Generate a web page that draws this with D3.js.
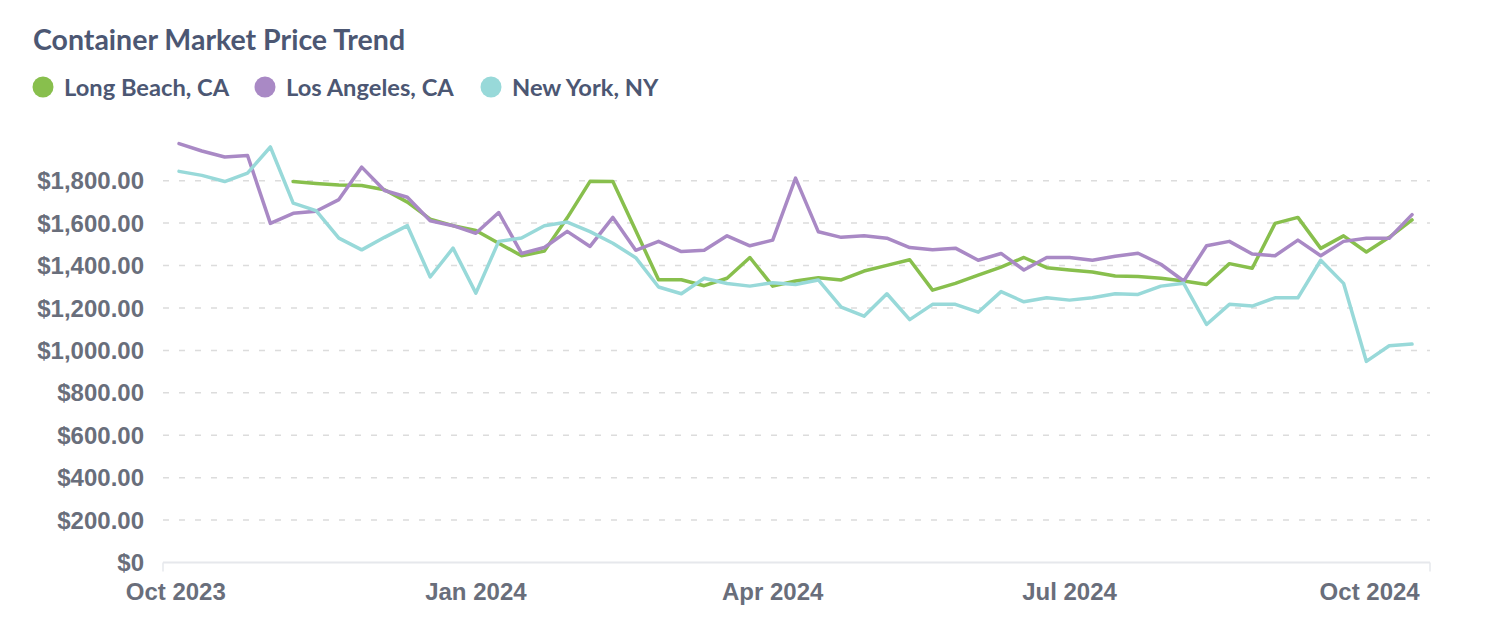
<!DOCTYPE html>
<html>
<head>
<meta charset="utf-8">
<script src="https://cdn.jsdelivr.net/npm/d3@7"></script>
<style>
  body { margin: 0; background: #fff; }
  svg { display: block; }
</style>
</head>
<body>
<svg id="chart" width="1488" height="632"></svg>
<script>
"use strict";
// weekly dates (Mondays)
var weeks = ["2023-10-02","2023-10-09","2023-10-16","2023-10-23","2023-10-30",
  "2023-11-06","2023-11-13","2023-11-20","2023-11-27",
  "2023-12-04","2023-12-11","2023-12-18","2023-12-25",
  "2024-01-01","2024-01-08","2024-01-15","2024-01-22","2024-01-29",
  "2024-02-05","2024-02-12","2024-02-19","2024-02-26",
  "2024-03-04","2024-03-11","2024-03-18","2024-03-25",
  "2024-04-01","2024-04-08","2024-04-15","2024-04-22","2024-04-29",
  "2024-05-06","2024-05-13","2024-05-20","2024-05-27",
  "2024-06-03","2024-06-10","2024-06-17","2024-06-24",
  "2024-07-01","2024-07-08","2024-07-15","2024-07-22","2024-07-29",
  "2024-08-05","2024-08-12","2024-08-19","2024-08-26",
  "2024-09-02","2024-09-09","2024-09-16","2024-09-23","2024-09-30",
  "2024-10-07","2024-10-14"];

var longBeach = [null,null,null,null,null,
  1796,1787,1780,1777,1757,1699,1619,1588,1565,1505,1446,1468,1625,1797,1796,
  1565,1333,1333,1305,1340,1438,1303,1327,1343,1332,1374,1401,1427,1284,1316,
  1355,1393,1438,1390,1379,1370,1351,1348,1340,1327,1311,1409,1387,1599,1627,
  1481,1540,1464,1533,1615];

var losAngeles = [1975,1940,1912,1919,1599,1646,1656,1711,1864,1754,1722,1611,1588,1552,
  1650,1457,1485,1561,1490,1627,1472,1514,1466,1472,1540,1493,1520,1812,1559,1533,
  1540,1529,1485,1474,1482,1425,1457,1379,1438,1438,1425,1444,1458,1406,1327,1493,
  1514,1454,1446,1520,1446,1514,1529,1529,1640];

var newYork = [1844,1825,1796,1836,1959,1694,1659,1529,1474,1533,1588,1346,1482,1270,
  1514,1530,1588,1605,1560,1505,1437,1299,1267,1340,1315,1303,1319,1311,1332,1204,
  1161,1267,1145,1217,1217,1180,1277,1229,1248,1237,1248,1267,1264,1303,1316,1122,
  1217,1209,1248,1248,1425,1316,948,1022,1030];

var seriesNames = ["Long Beach, CA", "Los Angeles, CA", "New York, NY"];
var seriesColors = ["#88BF4D", "#A989C5", "#98D9D9"];
var yTicks = [0,200,400,600,800,1000,1200,1400,1600,1800];
var xTickDates = ["2023-10-01","2024-01-01","2024-04-01","2024-07-01","2024-10-01"];

var parse = d3.timeParse("%Y-%m-%d");
var dates = weeks.map(parse);
var allSeries = [longBeach, losAngeles, newYork];

var svg = d3.select("#chart");
var plotLeft = 163, plotRight = 1430, plotBottom = 562.5, plotTop = 180.7;

var x = d3.scaleTime()
  .domain([new Date(2023, 8, 27, 2), new Date(2024, 9, 19, 12)])
  .range([plotLeft, plotRight]);
var y = d3.scaleLinear()
  .domain([0, 1800])
  .range([plotBottom, plotTop]);

// title
svg.append("text")
  .attr("x", 33).attr("y", 50)
  .attr("font-family", "Lato, sans-serif")
  .attr("font-weight", 700)
  .attr("font-size", 28.5)
  .attr("fill", "#4C5773")
  .text("Container Market Price Trend");

// legend
var legX = [43, 265, 491];
var leg = svg.selectAll("g.legend")
  .data(seriesNames)
  .enter().append("g")
  .attr("class", "legend")
  .attr("transform", function(d, i) { return "translate(" + legX[i] + ",87)"; });
leg.append("circle")
  .attr("r", 10.5)
  .attr("fill", function(d, i) { return seriesColors[i]; });
leg.append("text")
  .attr("x", 21).attr("y", 8.5)
  .attr("font-family", "Lato, sans-serif")
  .attr("font-weight", 700)
  .attr("font-size", 23.7)
  .attr("fill", "#4C5773")
  .text(function(d) { return d; });

// grid lines
svg.append("g")
  .selectAll("line")
  .data(yTicks.filter(function(d) { return d > 0; }))
  .enter().append("line")
  .attr("x1", plotLeft).attr("x2", plotRight)
  .attr("y1", function(d) { return y(d); })
  .attr("y2", function(d) { return y(d); })
  .attr("stroke", "#dcdcdc")
  .attr("stroke-width", 1.5)
  .attr("stroke-dasharray", "6,10");

// y labels
var fmt = d3.format("$,.2f");
svg.append("g")
  .selectAll("text")
  .data(yTicks)
  .enter().append("text")
  .attr("x", 144)
  .attr("y", function(d) { return y(d); })
  .attr("dy", "0.36em")
  .attr("text-anchor", "end")
  .attr("font-family", "'Liberation Sans', Arial, sans-serif")
  .attr("font-weight", 700)
  .attr("font-size", 24)
  .attr("fill", "#696E7B")
  .text(function(d) { return d === 0 ? "$0" : fmt(d); });

// x axis
svg.append("line")
  .attr("x1", plotLeft).attr("x2", plotRight)
  .attr("y1", y(0)).attr("y2", y(0))
  .attr("stroke", "#e6e8ec")
  .attr("stroke-width", 2);
svg.append("g")
  .selectAll("line")
  .data([plotLeft, plotRight])
  .enter().append("line")
  .attr("x1", function(d) { return d; }).attr("x2", function(d) { return d; })
  .attr("y1", y(0)).attr("y2", y(0) + 9)
  .attr("stroke", "#e6e8ec")
  .attr("stroke-width", 1.5);

var xfmt = d3.timeFormat("%b %Y");
svg.append("g")
  .selectAll("text")
  .data(xTickDates.map(parse))
  .enter().append("text")
  .attr("x", function(d) { return x(d); })
  .attr("y", 600)
  .attr("text-anchor", "middle")
  .attr("font-family", "'Liberation Sans', Arial, sans-serif")
  .attr("font-weight", 700)
  .attr("font-size", 24)
  .attr("fill", "#696E7B")
  .text(function(d) { return xfmt(d); });

// lines
var line = d3.line()
  .defined(function(d) { return d != null; })
  .x(function(d, i) { return x(dates[i]); })
  .y(function(d) { return y(d); });

svg.append("g")
  .selectAll("path")
  .data(allSeries)
  .enter().append("path")
  .attr("d", line)
  .attr("fill", "none")
  .attr("stroke", function(d, i) { return seriesColors[i]; })
  .attr("stroke-width", 3.5)
  .attr("stroke-linejoin", "round")
  .attr("stroke-linecap", "round");
</script>
</body>
</html>
